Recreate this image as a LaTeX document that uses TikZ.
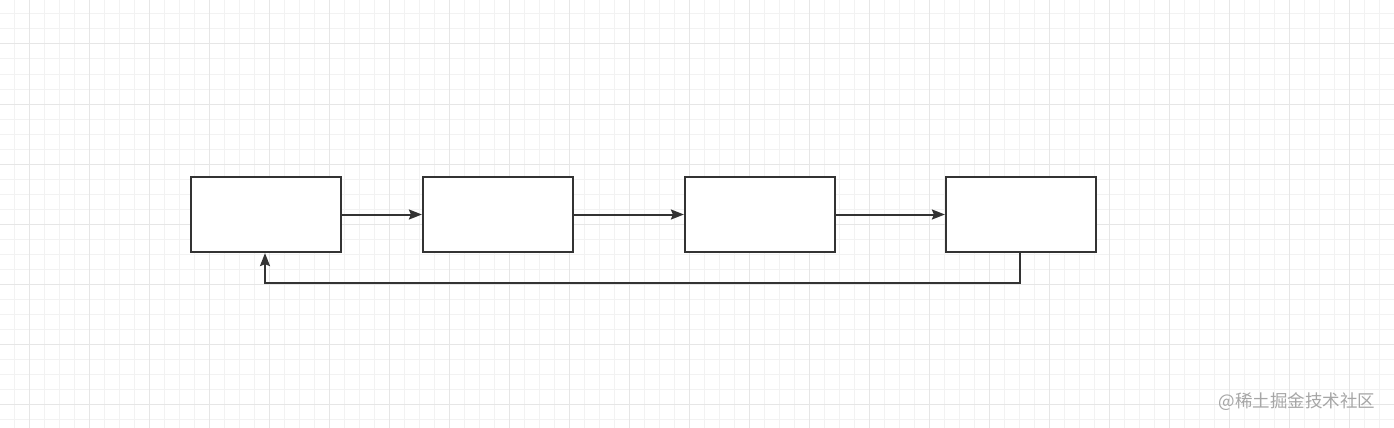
\documentclass[tikz,border=0pt]{standalone}
\usepackage{fontspec}
\newfontfamily\cjk{Noto Sans CJK SC}
\usetikzlibrary{arrows.meta}
\definecolor{minorgrid}{HTML}{F2F2F2}
\definecolor{majorgrid}{HTML}{E6E6E6}
\definecolor{ink}{HTML}{333333}
\definecolor{wm}{HTML}{A6A6A6}
\tikzset{
  box/.style={draw=ink, line width=2.2pt, fill=white, rectangle, inner sep=0pt,
    minimum width=150pt, minimum height=75pt},
  conn/.style={draw=ink, line width=2pt, -{Stealth[length=13pt,width=10pt,inset=2pt]}},
}
\begin{document}
\begin{tikzpicture}[x=1pt,y=-1pt]
\fill[white] (0,0) rectangle (1394,428);
\useasboundingbox (0,0) rectangle (1394,428);
% minor grid
\foreach \x in {14,29,...,1394} \draw[minorgrid, line width=1pt] (\x,0) -- (\x,428);
\foreach \y in {14,29,...,428} \draw[minorgrid, line width=1pt] (0,\y) -- (1394,\y);
% major grid
\foreach \x in {29,89,...,1394} \draw[majorgrid, line width=1pt] (\x,0) -- (\x,428);
\foreach \y in {44,104,...,428} \draw[majorgrid, line width=1pt] (0,\y) -- (1394,\y);

\node[box] (b1) at (266,214.5) {};
\node[box] (b2) at (498,214.5) {};
\node[box] (b3) at (760,214.5) {};
\node[box] (b4) at (1021,214.5) {};

\draw[conn] (b1.east) -- (b2.west);
\draw[conn] (b2.east) -- (b3.west);
\draw[conn] (b3.east) -- (b4.west);
\coordinate (c1) at (1020,283);
\coordinate (c2) at (265,283);
\draw[conn] ([xshift=-1pt]b4.south) -- (c1) -- (c2) -- ([xshift=-1pt]b1.south);

\node[text=wm, font=\cjk\fontsize{17.5}{20}\selectfont, inner sep=0pt] (wmk) at (1297,402) {@稀土掘金技术社区};
\end{tikzpicture}
\end{document}
